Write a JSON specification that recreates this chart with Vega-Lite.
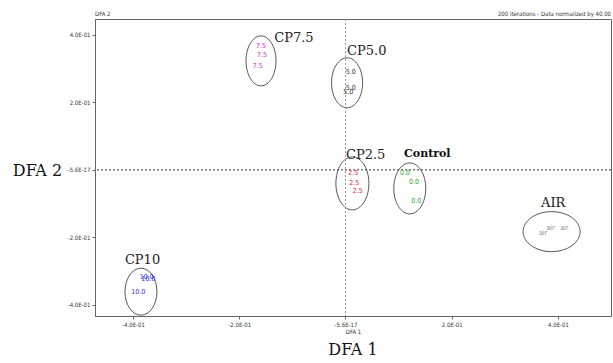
{
  "$schema": "https://vega.github.io/schema/vega-lite/v6.json",
  "width": 516,
  "height": 297,
  "autosize": "none",
  "padding": {"left": 95, "top": 19, "right": 2, "bottom": 47},
  "background": "white",
  "config": {
    "view": {"stroke": "#666", "strokeWidth": 1},
    "axis": {"grid": false, "domainColor": "#666", "tickColor": "#666", "tickSize": 3, "labelFont": "Liberation Sans Narrow, DejaVu Sans Condensed, sans-serif", "labelFontSize": 6, "labelColor": "#333", "titleFont": "Liberation Sans Narrow, DejaVu Sans Condensed, sans-serif", "titleFontWeight": "normal", "titleColor": "#333"}
  },
  "title": {"text": "DFA  1", "orient": "bottom", "anchor": "middle", "font": "DejaVu Serif", "fontSize": 16, "fontWeight": "normal", "color": "#111", "offset": 8},
  "datasets": {
    "ellipses": [
      {"group": "CP7.5", "cx": -0.159, "cy": 0.323},
      {"group": "CP5.0", "cx": 0.003, "cy": 0.258},
      {"group": "CP2.5", "cx": 0.013, "cy": -0.040},
      {"group": "Control", "cx": 0.121, "cy": -0.055},
      {"group": "AIR", "cx": 0.388, "cy": -0.183},
      {"group": "CP10", "cx": -0.385, "cy": -0.361}
    ],
    "points": [
      {"group": "CP7.5", "x": -0.159, "y": 0.367, "label": "7.5"},
      {"group": "CP7.5", "x": -0.157, "y": 0.341, "label": "7.5"},
      {"group": "CP7.5", "x": -0.165, "y": 0.308, "label": "7.5"},
      {"group": "CP5.0", "x": 0.010, "y": 0.290, "label": "5.0"},
      {"group": "CP5.0", "x": 0.010, "y": 0.243, "label": "5.0"},
      {"group": "CP5.0", "x": 0.005, "y": 0.231, "label": "5.0"},
      {"group": "CP2.5", "x": 0.0146, "y": -0.008, "label": "2.5"},
      {"group": "CP2.5", "x": 0.0165, "y": -0.0376, "label": "2.5"},
      {"group": "CP2.5", "x": 0.023, "y": -0.064, "label": "2.5"},
      {"group": "Control", "x": 0.112, "y": -0.008, "label": "0.0"},
      {"group": "Control", "x": 0.129, "y": -0.035, "label": "0.0"},
      {"group": "Control", "x": 0.133, "y": -0.092, "label": "0.0"},
      {"group": "AIR", "x": 0.372, "y": -0.188, "label": "air"},
      {"group": "AIR", "x": 0.386, "y": -0.172, "label": "air"},
      {"group": "AIR", "x": 0.412, "y": -0.173, "label": "air"},
      {"group": "CP10", "x": -0.374, "y": -0.316, "label": "10.0"},
      {"group": "CP10", "x": -0.371, "y": -0.323, "label": "10.0"},
      {"group": "CP10", "x": -0.390, "y": -0.361, "label": "10.0"}
    ],
    "groupLabels": [
      {"group": "CP7.5", "x": -0.097, "y": 0.390, "weight": "normal"},
      {"group": "CP5.0", "x": 0.040, "y": 0.351, "weight": "normal"},
      {"group": "CP2.5", "x": 0.038, "y": 0.044, "weight": "normal"},
      {"group": "Control", "x": 0.154, "y": 0.046, "weight": "bold"},
      {"group": "AIR", "x": 0.391, "y": -0.097, "weight": "normal"},
      {"group": "CP10", "x": -0.382, "y": -0.267, "weight": "normal"}
    ]
  },
  "layer": [
    {
      "data": {"name": "ellipses"},
      "mark": {"type": "point", "filled": false, "stroke": "#555", "strokeWidth": 1, "size": 3600, "opacity": 1},
      "encoding": {
        "x": {"field": "cx", "type": "quantitative", "scale": {"domain": [-0.4715, 0.4998], "nice": false, "zero": false},
          "axis": {"title": "DFA 1", "titleFontSize": 6, "titlePadding": 1, "values": [-0.4, -0.2, 0, 0.2, 0.4], "labelPadding": 2,
            "labelExpr": "datum.value == 0 ? '-5.6E-17' : datum.value < -0.3 ? '-4.0E-01' : datum.value < -0.1 ? '-2.0E-01' : datum.value < 0.3 ? '2.0E-01' : '4.0E-01'"}},
        "y": {"field": "cy", "type": "quantitative", "scale": {"domain": [-0.433, 0.447], "nice": false, "zero": false},
          "axis": {"title": "DFA  2", "titleFont": "DejaVu Serif", "titleFontSize": 16, "titleColor": "#111", "titleAngle": 0, "titleX": -58, "titleY": 151, "titleAlign": "center", "titleBaseline": "middle", "values": [-0.4, -0.2, 0, 0.2, 0.4], "labelPadding": 2,
            "labelExpr": "datum.value == 0 ? '-5.6E-17' : datum.value < -0.3 ? '-4.0E-01' : datum.value < -0.1 ? '-2.0E-01' : datum.value < 0.3 ? '2.0E-01' : '4.0E-01'"}},
        "shape": {"field": "group", "type": "nominal", "legend": null,
          "scale": {"domain": ["CP7.5", "CP5.0", "CP2.5", "Control", "AIR", "CP10"],
            "range": [
              "M -0.5 0 A 0.5 0.833 0 1 0 0.5 0 A 0.5 0.833 0 1 0 -0.5 0 Z",
              "M -0.517 0 A 0.517 0.833 0 1 0 0.517 0 A 0.517 0.833 0 1 0 -0.517 0 Z",
              "M -0.55 0 A 0.55 0.883 0 1 0 0.55 0 A 0.55 0.883 0 1 0 -0.55 0 Z",
              "M -0.533 0 A 0.533 0.85 0 1 0 0.533 0 A 0.533 0.85 0 1 0 -0.533 0 Z",
              "M -0.95 0 A 0.95 0.667 0 1 0 0.95 0 A 0.95 0.667 0 1 0 -0.95 0 Z",
              "M -0.533 0 A 0.533 0.783 0 1 0 0.533 0 A 0.533 0.783 0 1 0 -0.533 0 Z"
            ]}}
      }
    },
    {
      "data": {"values": [{"v": 0}]},
      "mark": {"type": "rule", "stroke": "#999", "strokeDash": [2, 2], "strokeWidth": 1},
      "encoding": {"x": {"field": "v", "type": "quantitative"}}
    },
    {
      "data": {"values": [{"v": 0}]},
      "mark": {"type": "rule", "stroke": "#333", "strokeDash": [2, 2], "strokeWidth": 1},
      "encoding": {"y": {"field": "v", "type": "quantitative"}}
    },
    {
      "data": {"name": "points"},
      "mark": {"type": "text", "font": "Liberation Sans Narrow, DejaVu Sans Condensed, sans-serif", "fontSize": 7, "align": "center", "baseline": "middle"},
      "encoding": {
        "x": {"field": "x", "type": "quantitative"},
        "y": {"field": "y", "type": "quantitative"},
        "text": {"field": "label"},
        "color": {"field": "group", "type": "nominal", "legend": null,
          "scale": {"domain": ["CP7.5", "CP5.0", "CP2.5", "Control", "AIR", "CP10"], "range": ["#e020e0", "#333333", "#e02030", "#30a030", "#888888", "#3030e0"]}}
      }
    },
    {
      "data": {"name": "groupLabels"},
      "transform": [{"filter": "datum.weight == 'normal'"}],
      "mark": {"type": "text", "font": "DejaVu Serif", "fontSize": 13, "align": "center", "baseline": "middle", "color": "#222"},
      "encoding": {
        "x": {"field": "x", "type": "quantitative"},
        "y": {"field": "y", "type": "quantitative"},
        "text": {"field": "group"}
      }
    },
    {
      "data": {"name": "groupLabels"},
      "transform": [{"filter": "datum.weight == 'bold'"}],
      "mark": {"type": "text", "font": "DejaVu Serif", "fontSize": 11, "fontWeight": "bold", "align": "center", "baseline": "middle", "color": "#111"},
      "encoding": {
        "x": {"field": "x", "type": "quantitative"},
        "y": {"field": "y", "type": "quantitative"},
        "text": {"field": "group"}
      }
    },
    {
      "data": {"values": [{"x": -0.4715, "y": 0.447, "t": "DFA 2"}]},
      "mark": {"type": "text", "font": "Liberation Sans Narrow, DejaVu Sans Condensed, sans-serif", "fontSize": 6, "align": "left", "baseline": "bottom", "dy": -2, "color": "#333"},
      "encoding": {"x": {"field": "x", "type": "quantitative"}, "y": {"field": "y", "type": "quantitative"}, "text": {"field": "t"}}
    },
    {
      "data": {"values": [{"x": 0.4998, "y": 0.447, "t": "200 iterations - Data normalized by 40.00"}]},
      "mark": {"type": "text", "font": "Liberation Sans Narrow, DejaVu Sans Condensed, sans-serif", "fontSize": 6, "align": "right", "baseline": "bottom", "dy": -2, "color": "#333"},
      "encoding": {"x": {"field": "x", "type": "quantitative"}, "y": {"field": "y", "type": "quantitative"}, "text": {"field": "t"}}
    }
  ]
}
